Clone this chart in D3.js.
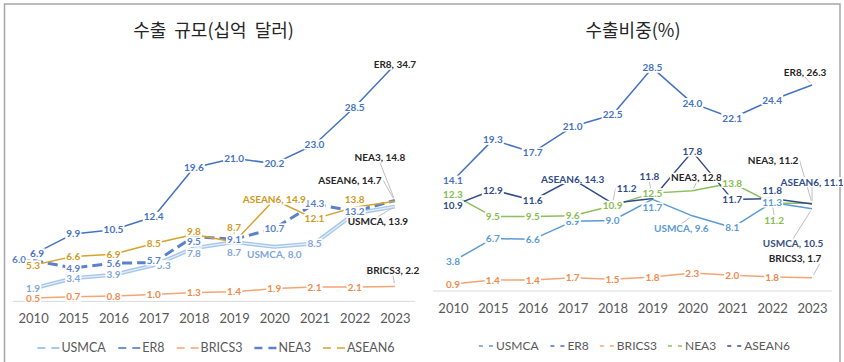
<!DOCTYPE html>
<html>
<head>
<meta charset="utf-8">
<script src="https://cdn.jsdelivr.net/npm/d3@7"></script>
<style>
  body { margin: 0; background: #fff; }
  svg { display: block; font-family: Lato, "Noto Sans", sans-serif; }
</style>
</head>
<body>
<svg id="chart" width="844" height="362"></svg>
<script>
// ---- data ----
const years = ["2010", "2015", "2016", "2017", "2018", "2019", "2020", "2021", "2022", "2023"];
const seriesNames = ["USMCA", "ER8", "BRICS3", "NEA3", "ASEAN6"];

// export volume (billion USD)
const valueUSMCA  = [1.9, 3.4, 3.9, 5.3, 7.8, 8.7, 8.0, 8.5, 12.9, 13.9];
const valueER8    = [6.9, 9.9, 10.5, 12.4, 19.6, 21.0, 20.2, 23.0, 28.5, 34.7];
const valueBRICS3 = [0.5, 0.7, 0.8, 1.0, 1.3, 1.4, 1.9, 2.1, 2.1, 2.2];
const valueNEA3   = [6.0, 4.9, 5.6, 5.7, 9.5, 9.1, 10.7, 14.3, 13.2, 14.8];
const valueASEAN6 = [5.3, 6.6, 6.9, 8.5, 9.8, 8.7, 14.9, 12.1, 13.8, 14.7];

// export share (%)
const shareUSMCA  = [3.8, 6.7, 6.6, 8.9, 9.0, 11.7, 9.6, 8.1, 11.3, 10.5];
const shareER8    = [14.1, 19.3, 17.7, 21.0, 22.5, 28.5, 24.0, 22.1, 24.4, 26.3];
const shareBRICS3 = [0.9, 1.4, 1.4, 1.7, 1.5, 1.8, 2.3, 2.0, 1.8, 1.7];
const shareNEA3   = [12.3, 9.5, 9.5, 9.6, 10.9, 12.5, 12.8, 13.8, 11.2, 11.2];
const shareASEAN6 = [10.9, 12.9, 11.6, 14.3, 11.2, 11.8, 17.8, 11.7, 11.8, 11.1];

const volumeTitle = "수출 규모(십억 달러)";
const shareTitle = "수출비중(%)";

// ---- styles ----
const volumeStyles = {
  USMCA:  { stroke: "#A7C7EA", width: 4, inner: "#E6F0FA", label: "#7FA6DA" },
  ER8:    { stroke: "#4472C4", width: 1.5, label: "#4472C4" },
  BRICS3: { stroke: "#F4A574", width: 1.5, label: "#F08A4B" },
  NEA3:   { stroke: "#5B80CD", width: 3, dash: "10,5", label: "#5B7FCB" },
  ASEAN6: { stroke: "#D5A42C", width: 1.5, label: "#D09A22" }
};
const shareStyles = {
  USMCA:  { stroke: "#5B9BD5", width: 1.5, label: "#5B9BD5" },
  ER8:    { stroke: "#4472C4", width: 1.5, label: "#4472C4" },
  BRICS3: { stroke: "#F4A574", width: 1.5, label: "#F08A4B" },
  NEA3:   { stroke: "#8CC05A", width: 1.5, label: "#86BE4E" },
  ASEAN6: { stroke: "#2F4C8A", width: 1.5, label: "#2F4C8A" }
};

// label placement relative to its point: [dx, dy]
const volumeLabelNudge = {
  "ER8|2010": [4, -1], "NEA3|2010": [-14, -1],
  "NEA3|2017": [0, -2], "USMCA|2017": [10, 0],
  "ASEAN6|2018": [0, -3], "NEA3|2018": [0, 5], "USMCA|2018": [0, 5],
  "ASEAN6|2019": [0, -15], "USMCA|2019": [0, 10],
  "USMCA|2020": [0, 8],
  "ASEAN6|2022": [0, -8],
  "NEA3|2023": [-15, -43], "ASEAN6|2023": [-45, -21], "USMCA|2023": [-17, 15], "BRICS3|2023": [-2, -16]
};
const shareLabelNudge = {
  "ASEAN6|2018": [14, -15],
  "USMCA|2019": [0, 8], "ASEAN6|2019": [-3, -22],
  "NEA3|2020": [4, -13], "USMCA|2020": [-11, 13],
  "ASEAN6|2022": [0, -8], "NEA3|2022": [2, 17],
  "ER8|2023": [-7, -13], "NEA3|2023": [-39, -43], "ASEAN6|2023": [0, -22],
  "USMCA|2023": [-19, 35], "BRICS3|2023": [-17, -19]
};
// labels that carry the series name, with their text colour
const volumeNamedLabels = {
  "ASEAN6|2020": "#D09A22", "USMCA|2020": "#7FA6DA",
  "ER8|2023": "#262626", "NEA3|2023": "#262626", "ASEAN6|2023": "#262626",
  "USMCA|2023": "#262626", "BRICS3|2023": "#262626"
};
const shareNamedLabels = {
  "ASEAN6|2017": "#2F4C8A", "NEA3|2020": "#262626", "USMCA|2020": "#5B9BD5",
  "ER8|2023": "#262626", "NEA3|2023": "#262626", "ASEAN6|2023": "#2F4C8A",
  "USMCA|2023": "#3A4F82", "BRICS3|2023": "#262626"
};
const volumeHiddenLabels = ["USMCA|2022"];
const shareHiddenLabels = [];

const panels = [
  {
    title: volumeTitle, titleX: 213.5,
    data: { USMCA: valueUSMCA, ER8: valueER8, BRICS3: valueBRICS3, NEA3: valueNEA3, ASEAN6: valueASEAN6 },
    xRange: [13, 415], yDomain: [0, 40], yRange: [301.4, 28.6], axisPad: 12,
    styles: volumeStyles, nudges: volumeLabelNudge, named: volumeNamedLabels, hidden: volumeHiddenLabels,
    legend: { y: 348, center: 216, marker: 23, dash: "8,6", textGap: 1, itemGap: 12, size: 12.5 }
  },
  {
    title: shareTitle, titleX: 633,
    data: { USMCA: shareUSMCA, ER8: shareER8, BRICS3: shareBRICS3, NEA3: shareNEA3, ASEAN6: shareASEAN6 },
    xRange: [433, 832], yDomain: [0, 30], yRange: [291, 56.1], axisPad: 12.5,
    styles: shareStyles, nudges: shareLabelNudge, named: shareNamedLabels, hidden: shareHiddenLabels,
    legend: { y: 346, center: 634.5, marker: 14, dash: "4,6", textGap: 3, itemGap: 11, size: 12 }
  }
];

const fmt = d3.format(".1f");
const svg = d3.select("#chart");

// frame
svg.append("rect")
  .attr("x", 4.5).attr("y", 4).attr("width", 835.5).attr("height", 372)
  .attr("fill", "none").attr("stroke", "#A6A6A6").attr("stroke-width", 1.5);

panels.forEach(p => {
  const g = svg.append("g");
  const x = d3.scalePoint().domain(years).range(p.xRange).padding(0.5);
  const y = d3.scaleLinear().domain(p.yDomain).range(p.yRange);

  // title
  g.append("text")
    .attr("x", p.titleX).attr("y", 31).attr("dy", "0.35em")
    .attr("text-anchor", "middle")
    .style("font-family", "'Noto Sans CJK KR', 'Noto Sans', sans-serif")
    .style("font-size", "18px").style("word-spacing", "4px").attr("fill", "#262626")
    .text(p.title);

  // baseline
  g.append("line")
    .attr("x1", p.xRange[0]).attr("x2", p.xRange[1])
    .attr("y1", y(0)).attr("y2", y(0))
    .attr("stroke", "#D9D9D9").attr("stroke-width", 1);

  // category axis
  const ax = g.append("g")
    .attr("transform", `translate(0,${y(0)})`)
    .call(d3.axisBottom(x).tickSize(0).tickPadding(p.axisPad));
  ax.select(".domain").remove();
  ax.selectAll("text")
    .style("font-family", "Lato, sans-serif").style("font-size", "13px")
    .attr("fill", "#595959");

  // lines
  const line = d3.line().x((d, i) => x(years[i])).y(d => y(d));
  seriesNames.forEach(name => {
    const s = p.styles[name];
    g.append("path")
      .datum(p.data[name])
      .attr("d", line)
      .attr("fill", "none")
      .attr("stroke", s.stroke)
      .attr("stroke-width", s.width)
      .attr("stroke-dasharray", s.dash || null)
      .attr("stroke-linejoin", "round");
    if (s.inner) {
      g.append("path")
        .datum(p.data[name])
        .attr("d", line)
        .attr("fill", "none")
        .attr("stroke", s.inner)
        .attr("stroke-width", 1.2)
        .attr("stroke-linejoin", "round");
    }
  });

  // data labels
  const leaderLayer = g.append("g");
  const labelLayer = g.append("g");
  seriesNames.forEach(name => {
    const s = p.styles[name];
    p.data[name].forEach((v, i) => {
      const key = name + "|" + years[i];
      if (p.hidden.includes(key)) return;
      const nudge = p.nudges[key] || [0, 0];
      const px = x(years[i]), py = y(v);
      const cx = px + nudge[0], cy = py + nudge[1];
      const named = p.named[key];
      const lg = labelLayer.append("g");
      const bg = lg.append("rect").attr("fill", "#fff");
      const t = lg.append("text")
        .attr("x", cx).attr("y", cy).attr("dy", "0.36em")
        .attr("text-anchor", "middle")
        .style("font-size", "10px").style("font-weight", 700)
        .attr("fill", named || s.label)
        .text(named ? `${name}, ${fmt(v)}` : fmt(v));
      const bb = t.node().getBBox();
      const w = bb.width + 2, h = 10;
      bg.attr("x", cx - w / 2).attr("y", cy - h / 2).attr("width", w).attr("height", h);
      // leader line for labels moved well away from their point
      if (Math.hypot(nudge[0], nudge[1]) > 12) {
        const anchors = [[cx, cy - h / 2], [cx, cy + h / 2], [cx - w / 2, cy], [cx + w / 2, cy]];
        const a = anchors.reduce((best, c) =>
          Math.hypot(c[0] - px, c[1] - py) < Math.hypot(best[0] - px, best[1] - py) ? c : best);
        const dist = Math.hypot(px - a[0], py - a[1]);
        const k = Math.max(0, (dist - 3) / dist);
        leaderLayer.append("line")
          .attr("x1", a[0]).attr("y1", a[1])
          .attr("x2", a[0] + (px - a[0]) * k).attr("y2", a[1] + (py - a[1]) * k)
          .attr("stroke", "#BFBFBF").attr("stroke-width", 1);
      }
    });
  });

  // legend
  const L = p.legend;
  const lgd = g.append("g");
  const items = seriesNames.map(name => {
    const item = lgd.append("g");
    const s = p.styles[name];
    item.append("line")
      .attr("x1", 0).attr("x2", L.marker).attr("y1", 0).attr("y2", 0)
      .attr("stroke", s.stroke).attr("stroke-width", s.dash ? 2.5 : Math.min(s.width, 2))
      .attr("stroke-dasharray", L.dash);
    const t = item.append("text")
      .attr("x", L.marker + L.textGap).attr("y", 0).attr("dy", "0.35em")
      .style("font-size", L.size + "px").attr("fill", "#595959")
      .text(name);
    return { item, w: L.marker + L.textGap + t.node().getBBox().width };
  });
  const total = d3.sum(items, d => d.w) + L.itemGap * (items.length - 1);
  let cur = L.center - total / 2;
  items.forEach(d => {
    d.item.attr("transform", `translate(${cur},${L.y})`);
    cur += d.w + L.itemGap;
  });
});
</script>
</body>
</html>
